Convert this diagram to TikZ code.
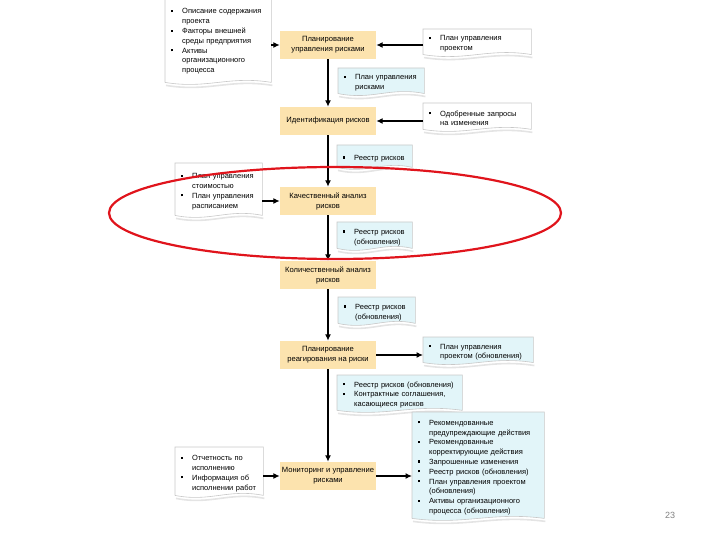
\documentclass[tikz,border=0pt]{standalone}
\usepackage{fontspec}
\setmainfont{Liberation Sans}
\usetikzlibrary{arrows.meta,calc,backgrounds}
\definecolor{boxfill}{HTML}{FCE3AE}
\definecolor{cyanfill}{HTML}{E2F5F9}
\definecolor{docline}{HTML}{C8C8C8}
\definecolor{docshadow}{HTML}{E4E4E4}
\definecolor{ellred}{HTML}{E0141C}

\newcommand{\itm}[1]{\par\noindent\hangindent=12pt\hangafter=1\makebox[12pt][l]{\hspace{1pt}\rule[1.8pt]{2.2pt}{2.2pt}}#1\par}

\newcommand{\docnode}[7]{%
  \pgfmathsetmacro\tw{#4-10}%
  \node[docbox, text width=\tw pt, minimum height=#5pt, anchor=north west] (#1) at (#2,#3) {#7};
  \begin{scope}[on background layer]
    \draw[draw=docshadow, line width=1.6pt]
      ($(#1.south east)+(1,3)$)
      .. controls ($(#1.south east)+({-0.4*#4+1},-4)$) and ($(#1.south west)+({0.4*#4+1},10)$) .. ($(#1.south west)+(1,3)$);
    \filldraw[draw=docline, fill=#6, line width=0.6pt]
      (#1.south west) -- (#1.north west) -- (#1.north east) -- (#1.south east)
      .. controls ($(#1.south east)+({-0.4*#4},-7)$) and ($(#1.south west)+({0.4*#4},7)$) .. (#1.south west);
  \end{scope}}

\tikzset{
  docbox/.style={inner xsep=5pt, inner ysep=2pt, align=left, font=\fontsize{7.5}{9.8}\selectfont},
  procbox/.style={fill=boxfill, minimum width=96pt, minimum height=28pt, align=center, inner sep=1pt, font=\fontsize{7.6}{10}\selectfont},
  arr/.style={-{Latex[length=6.5pt,width=6pt]}, line width=1.4pt},
  mainarr/.style={-{Latex[length=6.5pt,width=6pt]}, line width=1.8pt},
}

\begin{document}
\begin{tikzpicture}[x=1pt,y=-1pt]
\useasboundingbox (0,0) rectangle (720,540);

% process boxes
\node[procbox] (B1) at (328,45)  {Планирование\\управления рисками};
\node[procbox] (B2) at (328,121) {Идентификация рисков};
\node[procbox] (B3) at (328,201) {Качественный анализ\\рисков};
\node[procbox] (B4) at (328,275) {Количественный анализ\\рисков};
\node[procbox] (B5) at (328,355) {Планирование\\реагирования на риски};
\node[procbox] (B6) at (328,476) {Мониторинг и управление\\рисками};

% documents
\docnode{D1}{165}{-4}{106}{86}{white}{%
  \itm{Описание содержания\newline проекта}%
  \itm{Факторы внешней\newline среды предприятия}%
  \itm{Активы\newline организационного\newline процесса}}
\docnode{D2}{423}{29}{108}{24}{white}{%
  \itm{План управления\newline проектом}}
\docnode{C1}{338}{68}{86}{24}{cyanfill}{%
  \itm{План управления\newline рисками}}
\docnode{D3}{423}{103}{108}{26}{white}{%
  \itm{Одобренные запросы\newline на изменения}}
\docnode{C2}{337}{145}{75}{22}{cyanfill}{%
  \itm{Реестр рисков}}
\docnode{D4}{175}{163}{87}{52}{white}{%
  \itm{План управления\newline стоимостью}%
  \itm{План управления\newline расписанием}}
\docnode{C3}{337}{222}{75}{26}{cyanfill}{%
  \itm{Реестр рисков\newline (обновления)}}
\docnode{C4}{338}{297}{77}{26}{cyanfill}{%
  \itm{Реестр рисков\newline (обновления)}}
\docnode{C5}{423}{337}{110}{24}{cyanfill}{%
  \itm{План управления\newline проектом (обновления)}}
\docnode{C6}{337}{375}{125}{32}{cyanfill}{%
  \itm{Реестр рисков (обновления)}%
  \itm{Контрактные соглашения,\newline касающиеся рисков}}
\docnode{D5}{175}{447}{88}{48}{white}{%
  \itm{Отчетность по\newline исполнению}%
  \itm{Информация об\newline исполнении работ}}
\docnode{C7}{412}{412}{132}{106}{cyanfill}{%
  \itm{Рекомендованные\newline предупреждающие действия}%
  \itm{Рекомендованные\newline корректирующие действия}%
  \itm{Запрошенные изменения}%
  \itm{Реестр рисков (обновления)}%
  \itm{План управления проектом\newline (обновления)}%
  \itm{Активы организационного\newline процесса (обновления)}}

% main flow
\draw[mainarr] (B1) -- (B2);
\draw[mainarr] (B2) -- (B3);
\draw[mainarr] (B3) -- (B4);
\draw[mainarr] (B4) -- (B5);
\draw[mainarr] (B5) -- (B6);

% side connectors
\draw[arr] (D1.east |- B1) -- (B1);
\draw[arr] (D2.west |- B1) -- (B1);
\draw[arr] (D3.west |- B2) -- (B2);
\draw[arr] (D4.east |- B3) -- (B3);
\draw[arr] (B5) -- (C5.west |- B5);
\draw[arr] (D5.east |- B6) -- (B6);
\draw[arr] (B6) -- (C7.west |- B6);

% red highlight ellipse
\draw[ellred, line width=2.2pt] (335,213) ellipse [x radius=226, y radius=46];

% page number
\node[font=\fontsize{9}{10}\selectfont, text=gray] (pg) at (670,515) {23};
\end{tikzpicture}
\end{document}
